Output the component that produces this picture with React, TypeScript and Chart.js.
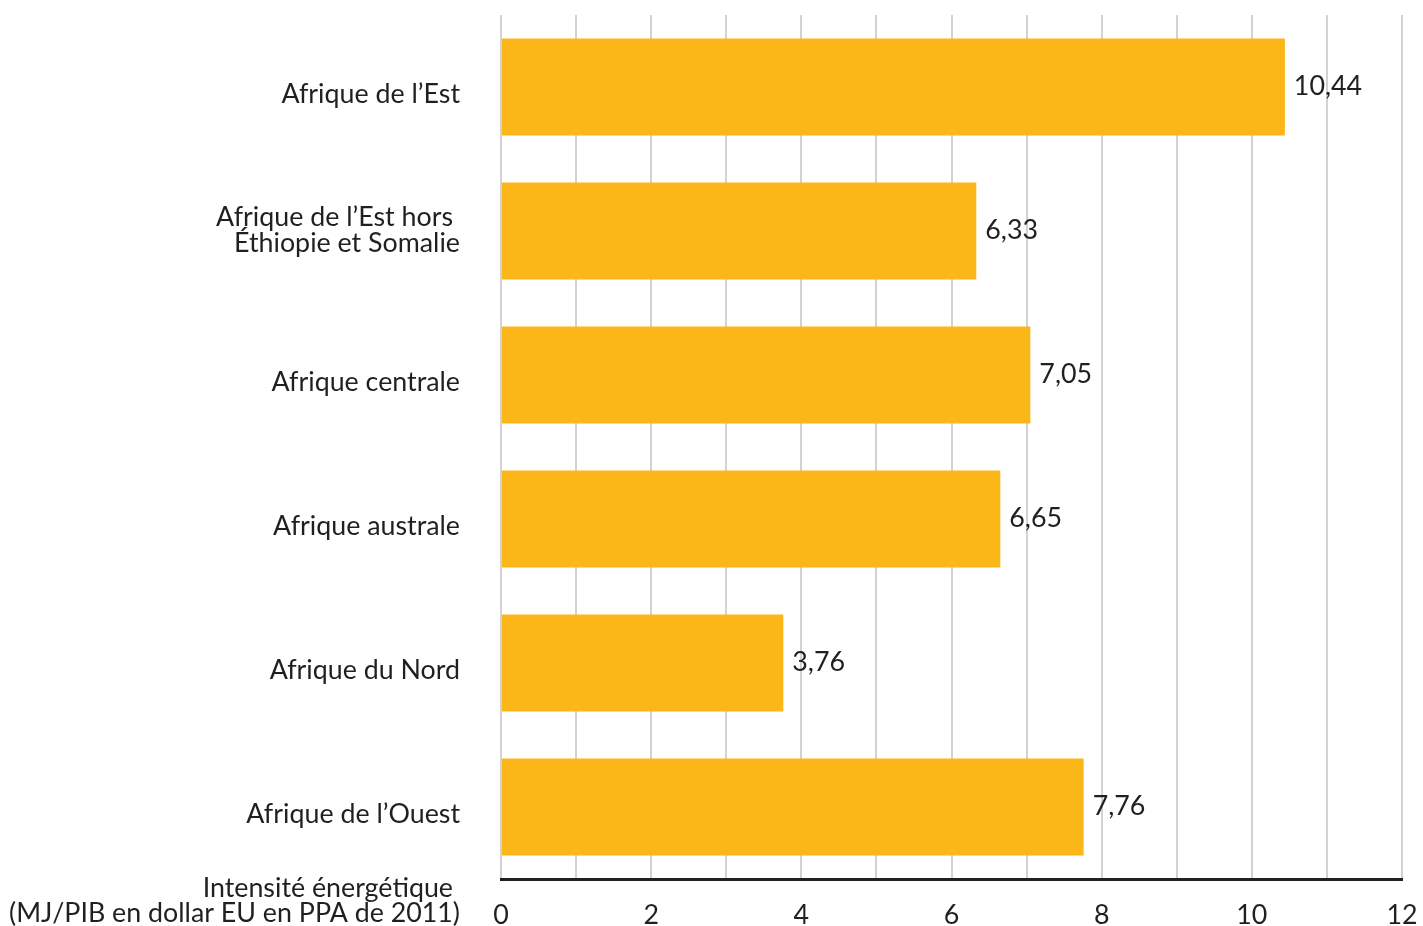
import React, { useEffect, useRef } from "react";
import { Chart, registerables } from "chart.js";

Chart.register(...registerables);

const categories: string[][] = [
  ["Afrique de l’Est"],
  ["Afrique de l’Est hors", "Éthiopie et Somalie"],
  ["Afrique centrale"],
  ["Afrique australe"],
  ["Afrique du Nord"],
  ["Afrique de l’Ouest"],
];
const values = [10.44, 6.33, 7.05, 6.65, 3.76, 7.76];
const axisTitle = ["Intensité énergétique", "(MJ/PIB en dollar EU en PPA de 2011)"];

const FONT = "Lato, 'Noto Sans', sans-serif";
const TEXT = "#231f20";
const FS = 26.8;

const labelsPlugin = {
  id: "customLabels",
  afterDraw(chart: any) {
    const ctx = chart.ctx;
    const yScale = chart.scales.y;
    const meta = chart.getDatasetMeta(0);
    ctx.save();
    ctx.font = `${FS}px ${FONT}`;
    ctx.fillStyle = TEXT;
    ctx.textAlign = "right";
    ctx.textBaseline = "middle";
    categories.forEach((lines, i) => {
      const yc = yScale.getPixelForValue(i);
      if (lines.length === 1) {
        ctx.fillText(lines[0], 460, yc + 7);
      } else {
        ctx.fillText(lines[0], 453, yc - 14);
        ctx.fillText(lines[1], 460, yc + 12);
      }
    });
    ctx.textAlign = "left";
    meta.data.forEach((bar: any, i: number) => {
      ctx.fillText(values[i].toFixed(2).replace(".", ","), bar.x + 9, bar.y - 1);
    });
    ctx.textAlign = "right";
    ctx.fillText(axisTitle[0], 453, 888);
    ctx.fillText(axisTitle[1], 460, 913);
    ctx.restore();
  },
};

export default function App() {
  const ref = useRef<HTMLCanvasElement>(null);
  useEffect(() => {
    if (!ref.current) return;
    const chart = new Chart(ref.current, {
      type: "bar",
      data: {
        labels: categories.map((c) => c.join(" ")),
        datasets: [
          {
            data: values,
            backgroundColor: "#fbb618",
            barPercentage: 0.674,
            categoryPercentage: 1,
          },
        ],
      },
      options: {
        indexAxis: "y",
        animation: false,
        responsive: false,
        layout: { padding: { left: 501, right: 21, top: 15, bottom: 0 } },
        plugins: { legend: { display: false }, tooltip: { enabled: false } },
        scales: {
          y: { display: false },
          x: {
            min: 0,
            max: 12,
            afterFit: (axis: any) => {
              axis.height = 47;
              axis.paddingLeft = 0;
              axis.paddingRight = 0;
            },
            grid: { color: "#d2d2d2", lineWidth: 2, drawTicks: false },
            border: { color: "#231f20", width: 3 },
            ticks: {
              stepSize: 1,
              padding: 20,
              color: TEXT,
              font: { family: FONT, size: FS },
              autoSkip: false,
              maxRotation: 0,
              callback: (v: any) => (Number(v) % 2 === 0 ? String(v) : ""),
            },
          },
        },
      },
      plugins: [labelsPlugin],
    });
    return () => chart.destroy();
  }, []);
  return (
    <div style={{ position: "fixed", left: 0, top: 0, width: 1423, height: 926, background: "#fff" }}>
      <canvas ref={ref} width={1423} height={926} style={{ display: "block" }} />
    </div>
  );
}
